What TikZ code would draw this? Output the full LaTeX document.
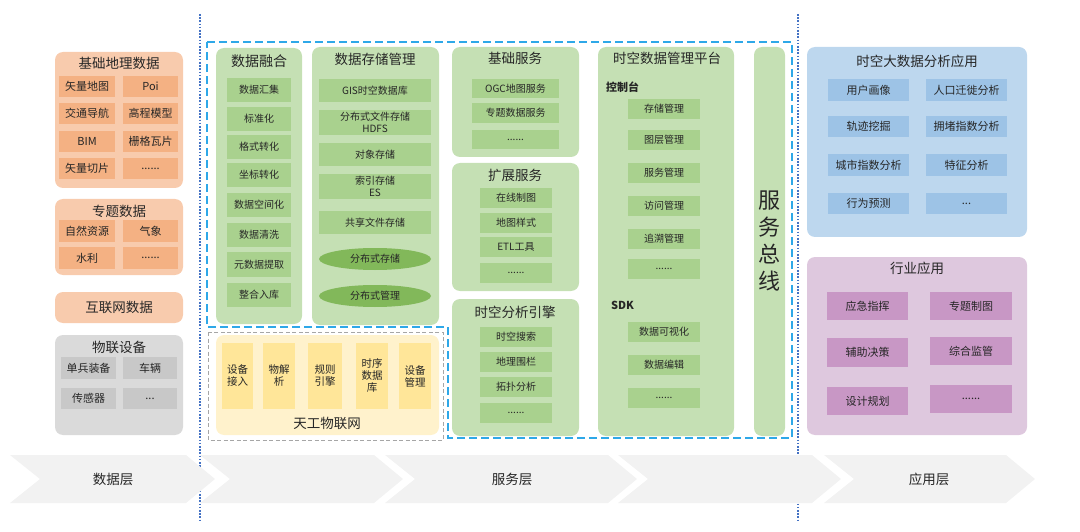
\documentclass[tikz,border=0pt]{standalone}
\usepackage{fontspec}
\setmainfont{Noto Sans CJK SC}
\usetikzlibrary{shapes.geometric}
\definecolor{txt}{HTML}{262626}
\definecolor{orgO}{HTML}{F8CBAD}
\definecolor{orgC}{HTML}{F4B183}
\definecolor{gryO}{HTML}{DADADA}
\definecolor{gryC}{HTML}{C8C8C8}
\definecolor{grnO}{HTML}{C5E0B4}
\definecolor{grnC}{HTML}{A9D18E}
\definecolor{grnE}{HTML}{82B85A}
\definecolor{yelO}{HTML}{FFF2CC}
\definecolor{yelC}{HTML}{FFE699}
\definecolor{bluO}{HTML}{BDD7EE}
\definecolor{bluC}{HTML}{9DC3E6}
\definecolor{purO}{HTML}{DEC8DE}
\definecolor{purC}{HTML}{C897C5}
\definecolor{chev}{HTML}{F2F2F2}
\definecolor{dashblue}{HTML}{2EA8E8}
\definecolor{dotblue}{HTML}{4472C4}
\definecolor{dashgray}{HTML}{A6A6A6}
\newcommand\bx[7]{\node[#1,minimum width={(#5-#3)*1pt},minimum height={(#6-#4)*1pt}] (#2) at ({(#3+#5)/2},{(#4+#6)/2}) {#7};}
\tikzset{
  base/.style={inner sep=0pt,outer sep=0pt,text=txt,align=center},
  outer/.style={base,rounded corners=8pt},
  cell/.style={base,font=\fontsize{10}{12}\selectfont},
  cellL/.style={base,font=\fontsize{11}{13}\selectfont},
  ttl/.style={base,font=\fontsize{13.5}{15}\selectfont},
  lbl/.style={base,font=\bfseries\fontsize{11}{13}\selectfont,anchor=west},
  oO/.style={outer,fill=orgO}, oC/.style={cellL,fill=orgC},
  gO/.style={outer,fill=gryO}, gC/.style={cellL,fill=gryC},
  nO/.style={outer,fill=grnO}, nC/.style={cell,fill=grnC},
  nE/.style={cell,ellipse,fill=grnE},
  yO/.style={outer,fill=yelO}, yC/.style={cell,fill=yelC,font=\fontsize{10.5}{12}\selectfont},
  bO/.style={outer,fill=bluO}, bC/.style={cellL,fill=bluC},
  pO/.style={outer,fill=purO}, pC/.style={cellL,fill=purC},
  chevron/.style={fill=chev,draw=none},
  layer/.style={base,font=\fontsize{13.5}{15}\selectfont},
  bluedash/.style={draw=dashblue,line width=1.8pt,dash pattern=on 8pt off 4pt},
  graydash/.style={draw=dashgray,line width=1pt,dash pattern=on 4pt off 2.5pt},
  dotline/.style={draw=dotblue,line width=1.6pt,dash pattern=on 1.6pt off 1.6pt}
}
\begin{document}
\begin{tikzpicture}[x=1pt,y=-1pt]
\useasboundingbox (0,0) rectangle (1080,532);

% dotted separators (under the chevrons)
\draw[dotline] (200,14) -- (200,521);
\draw[dotline] (798,14) -- (798,521);

% ---------- chevrons (bottom layers) ----------
\foreach \L/\R in {10/215,200/403,385/637,618/841,824/1035}{
  \fill[chevron] (\L,455) -- ({\R-29},455) -- (\R,479) -- ({\R-29},503) -- (\L,503) -- ({\L+30},479) -- cycle;
}
\node[layer] (lay1) at (113,479) {数据层};
\node[layer] (lay2) at (512,479) {服务层};
\node[layer] (lay3) at (929,479) {应用层};

% ---------- left column: data layer ----------
\bx{oO}{geo}{55}{52}{183}{188}{}
\node[ttl] (geoT) at (119,63) {基础地理数据};
\bx{oC}{g11}{59}{76}{115}{97}{矢量地图}
\bx{oC}{g12}{123}{76}{178}{97}{Poi}
\bx{oC}{g21}{59}{103}{115}{124}{交通导航}
\bx{oC}{g22}{123}{103}{178}{124}{高程模型}
\bx{oC}{g31}{59}{131}{115}{152}{BIM}
\bx{oC}{g32}{123}{131}{178}{152}{栅格瓦片}
\bx{oC}{g41}{59}{158}{115}{179}{矢量切片}
\bx{oC}{g42}{123}{158}{178}{179}{......}

\bx{oO}{thm}{55}{199}{183}{275}{}
\node[ttl] (thmT) at (119,211) {专题数据};
\bx{oC}{t11}{59}{220}{115}{242}{自然资源}
\bx{oC}{t12}{123}{220}{178}{242}{气象}
\bx{oC}{t21}{59}{247}{115}{269}{水利}
\bx{oC}{t22}{123}{247}{178}{269}{......}

\bx{oO,font=\fontsize{13.5}{15}\selectfont}{web}{55}{292}{183}{323}{互联网数据}

\bx{gO}{iot}{55}{335}{183}{435}{}
\node[ttl] (iotT) at (119,347) {物联设备};
\bx{gC}{i11}{61}{357}{116}{379}{单兵装备}
\bx{gC}{i12}{123}{357}{177}{379}{车辆}
\bx{gC}{i21}{61}{388}{116}{409}{传感器}
\bx{gC}{i22}{123}{388}{177}{409}{...}

% ---------- service layer ----------
\bx{nO}{fus}{216}{48}{302}{324}{}
\node[ttl,font=\fontsize{14}{16}\selectfont] (fusT) at (259,61) {数据融合};
\bx{nC}{f1}{227}{78}{291}{102}{数据汇集}
\bx{nC}{f2}{227}{107}{291}{131}{标准化}
\bx{nC}{f3}{227}{135}{291}{159}{格式转化}
\bx{nC}{f4}{227}{163}{291}{187}{坐标转化}
\bx{nC}{f5}{227}{193}{291}{217}{数据空间化}
\bx{nC}{f6}{227}{223}{291}{247}{数据清洗}
\bx{nC}{f7}{227}{252}{291}{277}{元数据提取}
\bx{nC}{f8}{227}{283}{291}{307}{整合入库}

\bx{nO}{sto}{312}{47}{439}{325}{}
\node[ttl] (stoT) at (375,59) {数据存储管理};
\bx{nC}{s1}{319}{79}{431}{102}{GIS时空数据库}
\bx{nC}{s2}{319}{110}{431}{135}{分布式文件存储\\HDFS}
\bx{nC}{s3}{319}{143}{431}{166}{对象存储}
\bx{nC}{s4}{319}{174}{431}{199}{索引存储\\ES}
\bx{nC}{s5}{319}{211}{431}{234}{共享文件存储}
\bx{nE}{s6}{319}{248}{431}{270}{分布式存储}
\bx{nE}{s7}{319}{285}{431}{307}{分布式管理}

\bx{nO}{bas}{452}{47}{579}{157}{}
\node[ttl] (basT) at (515,58) {基础服务};
\bx{nC}{b1}{472}{79}{559}{98}{OGC地图服务}
\bx{nC}{b2}{472}{103}{559}{123}{专题数据服务}
\bx{nC}{b3}{472}{130}{559}{149}{......}

\bx{nO}{ext}{452}{163}{579}{291}{}
\node[ttl] (extT) at (515,175) {扩展服务};
\bx{nC}{e1}{480}{188}{552}{208}{在线制图}
\bx{nC}{e2}{480}{213}{552}{233}{地图样式}
\bx{nC}{e3}{480}{237}{552}{257}{ETL工具}
\bx{nC}{e4}{480}{263}{552}{283}{......}

\bx{nO}{ana}{452}{299}{579}{436}{}
\node[ttl] (anaT) at (515,312) {时空分析引擎};
\bx{nC}{a1}{480}{327}{552}{347}{时空搜索}
\bx{nC}{a2}{480}{352}{552}{372}{地理围栏}
\bx{nC}{a3}{480}{377}{552}{397}{拓扑分析}
\bx{nC}{a4}{480}{403}{552}{423}{......}

\bx{nO}{plt}{598}{47}{734}{436}{}
\node[ttl] (pltT) at (667,58) {时空数据管理平台};
\node[lbl] (ctl) at (606,87) {控制台};
\bx{nC}{p1}{628}{99}{700}{119}{存储管理}
\bx{nC}{p2}{628}{130}{700}{150}{图层管理}
\bx{nC}{p3}{628}{163}{700}{183}{服务管理}
\bx{nC}{p4}{628}{196}{700}{216}{访问管理}
\bx{nC}{p5}{628}{229}{700}{249}{追溯管理}
\bx{nC}{p6}{628}{259}{700}{279}{......}
\node[lbl] (sdk) at (611,305) {SDK};
\bx{nC}{p7}{628}{322}{700}{342}{数据可视化}
\bx{nC}{p8}{628}{355}{700}{375}{数据编辑}
\bx{nC}{p9}{628}{388}{700}{408}{......}

\bx{nO,font=\fontsize{22}{27}\selectfont}{bus}{754}{47}{785}{436}{服\\务\\总\\线}

% dashed frames
\draw[bluedash] (207,42) -- (792,42) -- (792,438) -- (448,438) -- (448,327) -- (207,327) -- cycle;
\draw[graydash] (208,332) rectangle (443,440);

\bx{yO}{tg}{216}{335}{439}{435}{}
\bx{yC}{y1}{222}{343}{253}{409}{设备\\接入}
\bx{yC}{y2}{263}{343}{295}{409}{物解\\析}
\bx{yC}{y3}{308}{343}{342}{409}{规则\\引擎}
\bx{yC}{y4}{356}{343}{388}{409}{时序\\数据\\库}
\bx{yC}{y5}{399}{343}{431}{409}{设备\\管理}
\node[ttl] (tgT) at (327,423) {天工物联网};

% ---------- application layer ----------
\bx{bO}{bda}{807}{47}{1027}{237}{}
\node[ttl] (bdaT) at (917,61) {时空大数据分析应用};
\bx{bC}{r11}{828}{79}{909}{101}{用户画像}
\bx{bC}{r12}{926}{79}{1007}{101}{人口迁徙分析}
\bx{bC}{r21}{828}{116}{909}{137}{轨迹挖掘}
\bx{bC}{r22}{926}{116}{1007}{137}{拥堵指数分析}
\bx{bC}{r31}{828}{154}{909}{176}{城市指数分析}
\bx{bC}{r32}{926}{154}{1007}{176}{特征分析}
\bx{bC}{r41}{828}{193}{909}{214}{行为预测}
\bx{bC}{r42}{926}{193}{1007}{214}{...}

\bx{pO}{ind}{807}{257}{1027}{435}{}
\node[ttl] (indT) at (917,268) {行业应用};
\bx{pC}{q11}{827}{292}{908}{320}{应急指挥}
\bx{pC}{q12}{930}{292}{1012}{320}{专题制图}
\bx{pC}{q21}{827}{338}{908}{367}{辅助决策}
\bx{pC}{q22}{930}{337}{1012}{365}{综合监管}
\bx{pC}{q31}{827}{387}{908}{415}{设计规划}
\bx{pC}{q32}{930}{385}{1012}{413}{......}
\end{tikzpicture}
\end{document}
